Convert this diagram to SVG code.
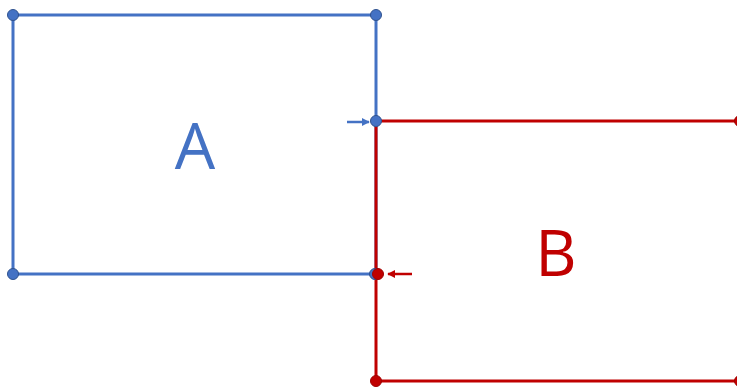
<svg xmlns="http://www.w3.org/2000/svg" width="737" height="388" viewBox="0 0 737 388">
<defs>
<style>
.bl{stroke:#4472C4;stroke-width:3;fill:none}
.rd{stroke:#C00000;stroke-width:3;fill:none}
.bd{fill:#4472C4;stroke:#2F528F;stroke-width:1}
.rdd{fill:#C00000;stroke:#A00000;stroke-width:1}
.lbl{font-family:"Open Sans","Liberation Sans",sans-serif;font-size:64px;text-anchor:middle}
</style>
<marker id="ab" viewBox="0 0 10 10" refX="9" refY="5" markerWidth="3.2" markerHeight="3.2" orient="auto"><path d="M0,0 L10,5 L0,10 z" fill="#4472C4"/></marker>
<marker id="ar" viewBox="0 0 10 10" refX="9" refY="5" markerWidth="3.2" markerHeight="3.2" orient="auto"><path d="M0,0 L10,5 L0,10 z" fill="#C00000"/></marker>
</defs>
<g id="A">
<rect class="bl" x="13" y="15" width="363" height="259"/>
<text class="lbl" x="195" y="169" fill="#4472C4">A</text>
</g>
<g id="B">
<polyline class="rd" points="745,121 376,121 376,381 745,381"/>
<circle class="rdd" cx="740" cy="121" r="5.5"/>
<circle class="rdd" cx="376" cy="381" r="5.5"/>
<circle class="rdd" cx="740" cy="381" r="5.5"/>
<text class="lbl" x="556" y="276" fill="#C00000">B</text>
</g>
<g id="A-points">
<circle class="bd" cx="13" cy="15" r="5.5"/>
<circle class="bd" cx="376" cy="15" r="5.5"/>
<circle class="bd" cx="13" cy="274" r="5.5"/>
<circle class="bd" cx="375" cy="274" r="5.5"/>
<circle class="bd" cx="376" cy="121" r="5.5"/>
</g>
<g id="B-point">
<circle class="rdd" cx="378" cy="274" r="5.5"/>
</g>
<g id="connectors">
<line x1="347" y1="122" x2="369" y2="122" stroke="#4472C4" stroke-width="2.5" marker-end="url(#ab)"/>
<line x1="412" y1="274" x2="388" y2="274" stroke="#C00000" stroke-width="2.5" marker-end="url(#ar)"/>
</g>
</svg>
